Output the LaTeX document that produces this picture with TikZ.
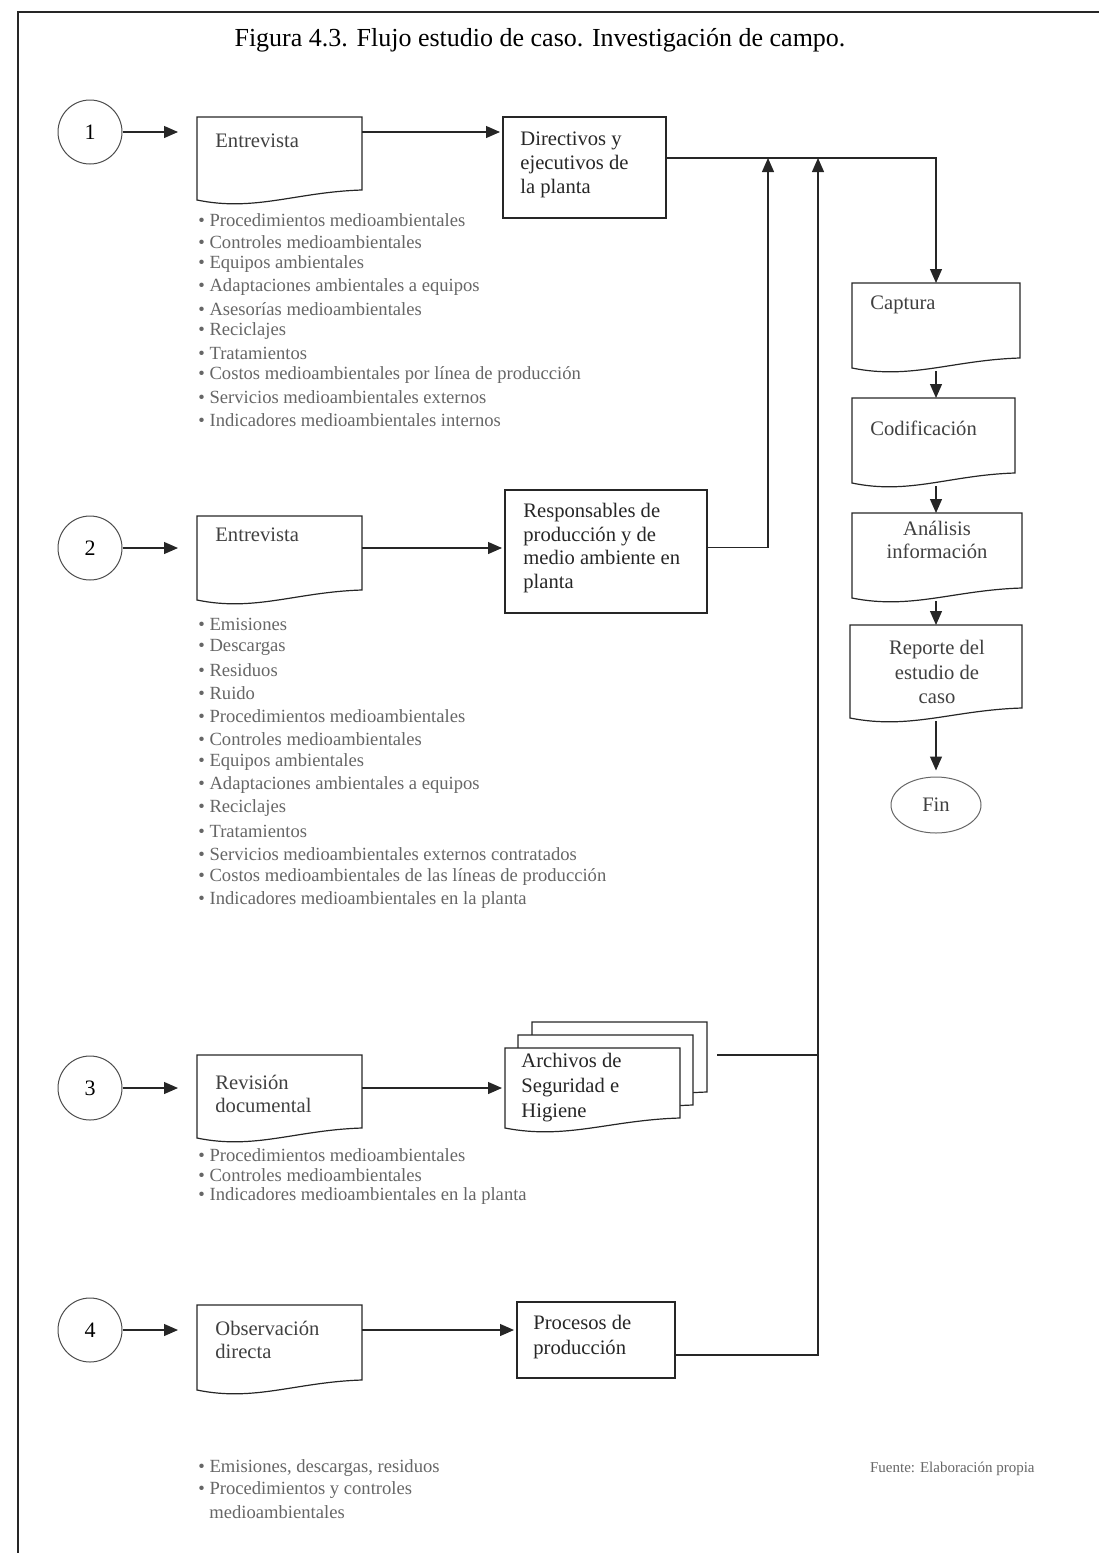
\documentclass[tikz,border=0pt]{standalone}
\usepackage{fontspec}
\setmainfont{Liberation Serif}
\usetikzlibrary{arrows.meta,calc,fit,shapes.geometric}

% Flowchart "document" symbol: straight top and sides, wavy bottom edge
\newcommand{\docoutline}[2][]{%
  \draw[conn,#1] (#2.north west) -- (#2.north east) -- (#2.south east)
    .. controls ($(#2.south east)!0.4!(#2.south west)+(0,2)$)
    and ($(#2.south east)!0.65!(#2.south west)+(0,22)$)
    .. ($(#2.south west)+(0,10)$) -- cycle;}

\begin{document}
\begin{tikzpicture}[x=0.5pt,y=-0.5pt,
  conn/.style={draw=black!85,line width=0.6pt},
  arr/.style={conn,-{Triangle[length=7pt,width=6pt]}},
  startc/.style={circle,draw=black!70,line width=0.5pt,minimum size=32pt,inner sep=0pt,
    font=\fontsize{11}{13}\selectfont},
  docarea/.style={inner sep=0pt,outer sep=0pt,draw=none},
  procbox/.style={inner sep=0pt,outer sep=0pt,conn},
  labtxt/.style={font=\fontsize{10.3}{11.7}\selectfont,text=black!75,inner sep=0pt},
  boxtxt/.style={labtxt,text=black!85,anchor=west,align=left},
  listtxt/.style={font=\fontsize{9.3}{11}\selectfont,text=black!60,anchor=west,inner sep=0pt},
]
\useasboundingbox (0,0) rectangle (1099,1553);

% page frame
\draw[conn] (18,1553) -- (18,12) -- (1099,12);

\node[font=\fontsize{13}{15}\selectfont] (title) at (540,40)
  {Figura 4.3. Flujo estudio de caso. Investigación de campo.};

% start connectors
\node[startc] (c1) at (90,132) {1};
\node[startc] (c2) at (90,548) {2};
\node[startc] (c3) at (90,1088) {3};
\node[startc] (c4) at (90,1330) {4};

% data-gathering documents
\node[docarea, fit={(197,117) (362,190)}] (e1) {};
\node[docarea, fit={(197,516) (362,590)}] (e2) {};
\node[docarea, fit={(197,1055) (362,1128)}] (rv3) {};
\node[docarea, fit={(197,1305) (362,1380)}] (o4) {};
\foreach \d in {e1,e2,rv3,o4} {\docoutline{\d}}

\node[labtxt,anchor=west] (e1t) at (215,141) {Entrevista};
\node[labtxt,anchor=west] (e2t) at (215,535) {Entrevista};
\node[labtxt,anchor=west,align=left] (rv3t) at (215,1094) {Revisión\\documental};
\node[labtxt,anchor=west,align=left] (o4t) at (215,1340) {Observación\\directa};

% sources
\node[procbox, fit={(503,117) (666,218)}] (d1) {};
\node[boxtxt,font=\fontsize{10.3}{12}\selectfont] (d1t) at (520,165)
  {Directivos y\\ejecutivos de\\la planta};
\node[procbox, fit={(505,490) (707,613)}] (r2) {};
\node[boxtxt] (r2t) at (523,548)
  {Responsables de\\producción y de\\medio ambiente en\\planta};
\node[procbox, fit={(517,1302) (675,1378)}] (p4) {};
\node[boxtxt,font=\fontsize{10.3}{12.5}\selectfont] (p4t) at (533,1337)
  {Procesos de\\producción};

% stacked archive documents
\node[docarea, fit={(532,1022) (707,1092)}] (a3b) {};
\node[docarea, fit={(518,1035) (693,1105)}] (a3m) {};
\node[docarea, fit={(505,1048) (680,1118)}] (a3) {};
\docoutline[fill=white]{a3b}
\docoutline[fill=white]{a3m}
\docoutline[fill=white]{a3}
\node[boxtxt,font=\fontsize{10.3}{12.5}\selectfont] (a3t) at (521,1088)
  {Archivos de\\Seguridad e\\Higiene};

% processing column
\coordinate (colx) at (936,0);
\node[docarea, fit={(852,283) (1020,358)}] (cap) {};
\node[docarea, fit={(852,398) (1015,473)}] (cod) {};
\node[docarea, fit={(852,513) (1022,588)}] (ana) {};
\node[docarea, fit={(850,625) (1022,708)}] (rep) {};
\foreach \d in {cap,cod,ana,rep} {\docoutline{\d}}
\node[labtxt,anchor=west] (capt) at (870,305) {Captura};
\node[labtxt,anchor=west] (codt) at (870,428) {Codificación};
\node[labtxt,align=center] (anat) at (937,540) {Análisis\\información};
\node[labtxt,align=center,font=\fontsize{10.3}{12.3}\selectfont] (rept) at (937,672)
  {Reporte del\\estudio de\\caso};
\node[ellipse,draw=black!60,line width=0.5pt,minimum width=45pt,minimum height=28pt,
  inner sep=0pt,labtxt] (fin) at (936,805) {Fin};

% flow: start -> document -> source
\foreach \c/\d/\s in {c1/e1/d1, c2/e2/r2, c3/rv3/a3, c4/o4/p4} {
  \draw[arr,shorten >=9.5pt] (\c.east) -- (\c.east -| \d.west);
  \draw[arr,shorten >=1.5pt] (\d.east |- \c.east) -- (\s.west |- \c.east);
}

% collection lines into the processing column
\coordinate (j1) at (768,158);
\coordinate (j2) at (818,158);
\coordinate (j3) at (818,1055);
\draw[arr] ($(d1.north east)+(0,41)$) -| (cap.north -| colx);
\draw[arr] ($(r2.east)+(0,-4)$) -| (j1);
\draw[arr] ($(p4.east)+(0,15)$) -| (j2);
\draw[conn] ($(a3b.east)+(10,-2)$) -- (j3);

% processing sequence
\draw[arr] ($(cap.south -| colx)+(0,13)$) -- (cod.north -| colx);
\draw[arr] ($(cod.south -| colx)+(0,13)$) -- (ana.north -| colx);
\draw[arr] ($(ana.south -| colx)+(0,13)$) -- (rep.north -| colx);
\draw[arr,shorten >=3pt] ($(rep.south -| colx)+(0,13)$) -- (fin.north);

% item lists
\foreach \t [count=\i from 0] in {Procedimientos medioambientales,
  Controles medioambientales, Equipos ambientales,
  Adaptaciones ambientales a equipos, Asesorías medioambientales,
  Reciclajes, Tratamientos, Costos medioambientales por línea de producción,
  Servicios medioambientales externos, Indicadores medioambientales internos}
  \node[listtxt] (la\i) at (198,{220+22.2*\i}) {\textbullet\ \t};

\foreach \t [count=\i from 0] in {Emisiones, Descargas, Residuos, Ruido,
  Procedimientos medioambientales, Controles medioambientales,
  Equipos ambientales, Adaptaciones ambientales a equipos, Reciclajes,
  Tratamientos, Servicios medioambientales externos contratados,
  Costos medioambientales de las líneas de producción,
  Indicadores medioambientales en la planta}
  \node[listtxt] (lb\i) at (198,{624+23*\i}) {\textbullet\ \t};

\foreach \t [count=\i from 0] in {Procedimientos medioambientales,
  Controles medioambientales, Indicadores medioambientales en la planta}
  \node[listtxt] (lc\i) at (198,{1155+20.5*\i}) {\textbullet\ \t};

\node[listtxt] (ld0) at (198,1468) {\textbullet\ Emisiones, descargas, residuos};
\node[listtxt] (ld1) at (198,1490) {\textbullet\ Procedimientos y controles};
\node[listtxt] (ld2) at (209,1512) {medioambientales};

\node[font=\fontsize{7.5}{9}\selectfont,text=black!60,anchor=east,inner sep=0pt] (src)
  at (1035,1469) {Fuente: Elaboración propia};
\end{tikzpicture}
\end{document}
